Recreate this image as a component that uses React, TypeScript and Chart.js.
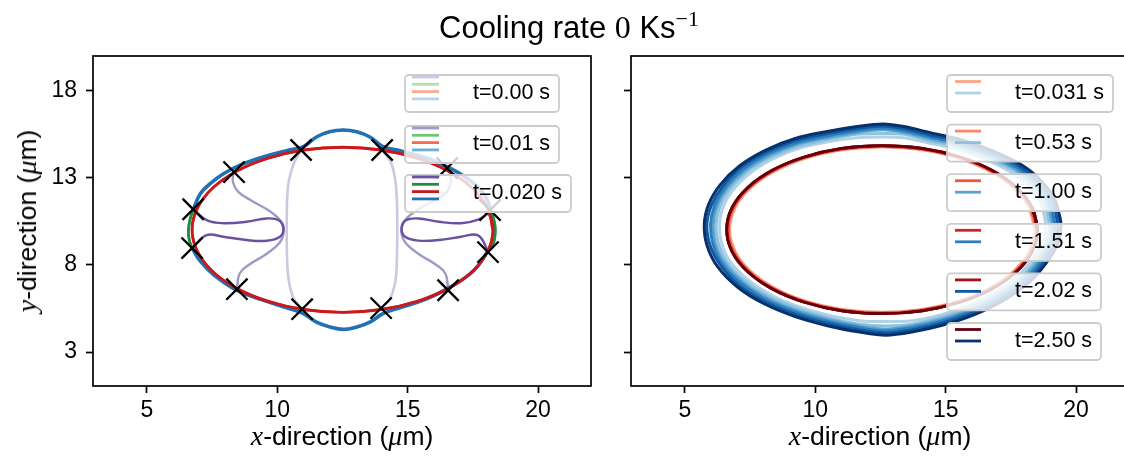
import React, { useEffect, useRef } from "react";
import { Chart, registerables } from "chart.js";

Chart.register(...registerables);

const FONT = '"Liberation Sans", Arial, Helvetica, sans-serif';
const SERIF = '"Liberation Serif", "DejaVu Serif", serif';

// ---------- axes ----------
const X_TICKS = [5, 10, 15, 20];
const Y_TICKS = [3, 8, 13, 18];
const X_RANGE = [2.93, 22.03];
const Y_RANGE = [1.05, 20.0];

// ---------- left panel: legend ----------
const LEFT_LABELS = ["t=0.00 s", "t=0.01 s", "t=0.020 s"];
const LEFT_COLORS = [
  ["#cbc9e2", "#b5e0ae", "#fcab8f", "#b7d4ea"],
  ["#9e9ac8", "#74c476", "#fb6a4a", "#6baed6"],
  ["#6a51a3", "#238b45", "#cb181d", "#2171b5"],
];

// ---------- left panel: curves (x, y in µm) ----------
const LAVENDER_LEFT = [[10.93, 14.6], [10.65, 13.9], [10.45, 12.9], [10.38, 11.9], [10.36, 10.0], [10.38, 8.1], [10.45, 7.0], [10.65, 6.0], [10.95, 5.45]];
const LAVENDER_RIGHT = [[14.02, 14.6], [14.35, 13.9], [14.52, 12.9], [14.58, 11.9], [14.6, 10.0], [14.58, 8.1], [14.52, 7.0], [14.3, 6.0], [13.98, 5.5]];

const MIDPURPLE_LEFT = [[8.31, 13.3], [8.3, 12.75], [8.5, 12.2], [9.0, 11.7], [9.7, 11.1], [10.15, 10.5], [10.25, 10.0], [10.1, 9.3], [9.55, 8.6], [8.9, 8.0], [8.55, 7.5], [8.45, 6.6]];
const MIDPURPLE_RIGHT = [[16.6, 13.5], [16.65, 12.75], [16.5, 12.2], [16.0, 11.7], [15.3, 11.1], [14.85, 10.5], [14.75, 10.0], [14.9, 9.3], [15.45, 8.6], [16.1, 8.0], [16.45, 7.5], [16.55, 6.55]];

const DARKPURPLE_LEFT = [[6.78, 11.2], [7.29, 10.58], [7.93, 10.4], [8.82, 10.48], [9.59, 10.67], [10.04, 10.58], [10.23, 10.1], [10.1, 9.62], [9.59, 9.39], [8.82, 9.43], [7.93, 9.62], [7.29, 9.71], [6.73, 8.97]];
const DARKPURPLE_RIGHT = [[18.2, 11.1], [17.7, 10.6], [17.05, 10.4], [16.2, 10.48], [15.4, 10.67], [14.95, 10.58], [14.77, 10.1], [14.9, 9.62], [15.4, 9.4], [16.2, 9.43], [17.05, 9.62], [17.7, 9.7], [18.08, 8.8]];

const GREEN_LEFT = [[6.78, 11.2], [6.65, 10.6], [6.59, 10.0], [6.62, 9.45], [6.73, 8.97]];
const GREEN_RIGHT = [[18.2, 11.1], [18.32, 10.5], [18.36, 10.0], [18.3, 9.3], [18.08, 8.8]];

const BLUE_TOP = [[6.78, 11.2], [7.05, 12.1], [7.45, 12.7], [7.95, 13.25], [8.55, 13.72], [9.45, 14.2], [10.45, 14.6], [11.0, 14.8], [11.5, 15.35], [12.0, 15.65], [12.53, 15.75], [13.05, 15.65], [13.55, 15.35], [14.05, 14.8], [14.6, 14.6], [15.6, 14.2], [16.4, 13.72], [17.0, 13.25], [17.6, 12.6], [18.0, 11.9], [18.2, 11.1]];
const BLUE_BOTTOM = [[18.08, 8.8], [17.55, 7.7], [16.65, 6.74], [15.6, 5.98], [14.6, 5.5], [14.05, 5.2], [13.55, 4.72], [13.05, 4.44], [12.53, 4.3], [12.02, 4.44], [11.5, 4.72], [11.0, 5.2], [10.45, 5.5], [9.45, 5.98], [8.44, 6.55], [7.55, 7.45], [7.03, 8.25], [6.73, 8.97]];

const RED_LEFT = [[18.27, 10.02], [18.07, 11.25], [17.5, 12.39], [16.58, 13.37], [15.39, 14.12], [13.99, 14.6], [12.5, 14.76], [11.01, 14.6], [9.62, 14.12], [8.42, 13.37], [7.5, 12.39], [6.93, 11.25], [6.73, 10.02], [6.93, 8.79], [7.5, 7.65], [8.42, 6.67], [9.62, 5.92], [11.01, 5.44], [12.5, 5.28], [13.99, 5.44], [15.39, 5.92], [16.58, 6.67], [17.5, 7.65], [18.07, 8.79]];

const JUNCTIONS = [[6.77, 11.2], [6.73, 8.97], [8.34, 13.33], [8.45, 6.61], [10.91, 14.6], [10.95, 5.46], [14.02, 14.6], [13.98, 5.52], [16.51, 13.56], [16.55, 6.55], [18.16, 11.15], [18.08, 8.74]];

// ---------- right panel ----------
const RIGHT_LABELS = ["t=0.031 s", "t=0.53 s", "t=1.00 s", "t=1.51 s", "t=2.02 s", "t=2.50 s"];
const RED_COLORS = ["#fca486", "#fc8767", "#f5533b", "#d42121", "#a50f15", "#67000d"];
const BLUE_COLORS = ["#b0d2e7", "#8dc1dd", "#5aa2cf", "#2e7ebc", "#0e59a2", "#08306b"];

const RED_SMALL = [[18.4, 10.03], [18.2, 11.26], [17.62, 12.4], [16.69, 13.38], [15.48, 14.14], [14.07, 14.61], [12.56, 14.77], [11.05, 14.61], [9.64, 14.14], [8.43, 13.38], [7.5, 12.4], [6.92, 11.26], [6.72, 10.03], [6.92, 8.8], [7.5, 7.66], [8.43, 6.68], [9.64, 5.92], [11.05, 5.45], [12.56, 5.29], [14.07, 5.45], [15.48, 5.92], [16.69, 6.68], [17.62, 7.66], [18.2, 8.8]];
const RED_MID = [[18.46, 10.03], [18.26, 11.27], [17.67, 12.42], [16.73, 13.41], [15.51, 14.17], [14.09, 14.65], [12.56, 14.81], [11.03, 14.65], [9.61, 14.17], [8.39, 13.41], [7.45, 12.42], [6.86, 11.27], [6.66, 10.03], [6.86, 8.79], [7.45, 7.64], [8.39, 6.65], [9.61, 5.89], [11.03, 5.41], [12.56, 5.25], [14.09, 5.41], [15.51, 5.89], [16.73, 6.65], [17.67, 7.64], [18.26, 8.79]];
const RED_FULL = [[18.52, 10.03], [18.32, 11.28], [17.72, 12.44], [16.77, 13.44], [15.54, 14.2], [14.1, 14.69], [12.56, 14.85], [11.02, 14.69], [9.58, 14.2], [8.35, 13.44], [7.4, 12.44], [6.8, 11.28], [6.6, 10.03], [6.8, 8.78], [7.4, 7.62], [8.35, 6.62], [9.58, 5.86], [11.02, 5.37], [12.56, 5.21], [14.1, 5.37], [15.54, 5.86], [16.77, 6.62], [17.72, 7.62], [18.32, 8.78]];

const BLUE_T0 = [[18.84, 10.4], [18.65, 11.53], [18.19, 12.5], [17.49, 13.34], [16.51, 14.06], [15.43, 14.65], [14.31, 15.02], [13.4, 15.3], [12.6, 15.35], [11.6, 15.3], [10.49, 15.07], [9.37, 14.7], [8.39, 14.11], [7.51, 13.29], [6.81, 12.25], [6.45, 11.28], [6.32, 10.3], [6.4, 9.27], [6.71, 8.25], [7.41, 7.16], [8.29, 6.29], [9.37, 5.6], [10.59, 5.08], [11.7, 4.8], [12.7, 4.75], [13.7, 4.8], [14.81, 5.13], [15.93, 5.7], [16.91, 6.44], [17.79, 7.41], [18.39, 8.45], [18.75, 9.43]];
const BLUE_T1 = [[18.97, 10.4], [18.77, 11.57], [18.29, 12.58], [17.59, 13.44], [16.58, 14.17], [15.47, 14.77], [14.33, 15.15], [13.4, 15.5], [12.6, 15.55], [11.6, 15.5], [10.47, 15.2], [9.34, 14.82], [8.33, 14.22], [7.42, 13.39], [6.71, 12.33], [6.33, 11.32], [6.19, 10.3], [6.28, 9.24], [6.61, 8.17], [7.32, 7.07], [8.23, 6.18], [9.34, 5.48], [10.57, 4.95], [11.7, 4.6], [12.7, 4.5], [13.7, 4.6], [14.83, 5.0], [15.97, 5.58], [16.98, 6.33], [17.89, 7.32], [18.49, 8.37], [18.88, 9.39]];
const BLUE_T2 = [[19.08, 10.4], [18.88, 11.6], [18.38, 12.65], [17.66, 13.51], [16.63, 14.26], [15.5, 14.88], [14.35, 15.26], [13.4, 15.61], [12.6, 15.76], [11.6, 15.61], [10.45, 15.31], [9.3, 14.93], [8.27, 14.31], [7.34, 13.46], [6.62, 12.4], [6.22, 11.35], [6.08, 10.3], [6.17, 9.2], [6.52, 8.1], [7.24, 6.99], [8.17, 6.09], [9.3, 5.37], [10.55, 4.84], [11.7, 4.49], [12.7, 4.31], [13.7, 4.49], [14.85, 4.89], [16.0, 5.47], [17.03, 6.24], [17.96, 7.24], [18.58, 8.3], [18.98, 9.35]];
const BLUE_T3 = [[19.18, 10.4], [18.97, 11.63], [18.46, 12.71], [17.73, 13.58], [16.68, 14.35], [15.53, 14.97], [14.36, 15.36], [13.4, 15.71], [12.6, 15.86], [11.6, 15.71], [10.44, 15.41], [9.27, 15.02], [8.22, 14.4], [7.27, 13.53], [6.54, 12.46], [6.13, 11.38], [5.98, 10.3], [6.08, 9.17], [6.44, 8.04], [7.17, 6.92], [8.12, 6.0], [9.27, 5.28], [10.54, 4.74], [11.7, 4.39], [12.7, 4.21], [13.7, 4.39], [14.86, 4.79], [16.03, 5.38], [17.08, 6.15], [18.03, 7.17], [18.66, 8.24], [19.07, 9.32]];
const BLUE_T4 = [[19.3, 10.4], [19.09, 11.66], [18.55, 12.78], [17.82, 13.67], [16.74, 14.45], [15.56, 15.09], [14.38, 15.48], [13.4, 15.83], [12.6, 15.98], [11.6, 15.83], [10.42, 15.53], [9.24, 15.14], [8.16, 14.5], [7.18, 13.62], [6.45, 12.53], [6.01, 11.41], [5.84, 10.32], [5.96, 9.14], [6.38, 7.95], [7.08, 6.83], [8.06, 5.9], [9.24, 5.16], [10.52, 4.62], [11.7, 4.27], [12.7, 4.09], [13.7, 4.27], [14.88, 4.67], [16.06, 5.26], [17.14, 6.05], [18.12, 7.08], [18.75, 8.17], [19.19, 9.29]];
const BLUE_T5 = [[19.42, 10.4], [19.2, 11.7], [18.65, 12.85], [17.9, 13.75], [16.8, 14.55], [15.6, 15.2], [14.4, 15.6], [13.4, 15.95], [12.6, 16.1], [11.6, 15.95], [10.4, 15.65], [9.2, 15.25], [8.1, 14.6], [7.1, 13.7], [6.35, 12.6], [5.9, 11.45], [5.74, 10.3], [5.85, 9.1], [6.25, 7.9], [7.0, 6.75], [8.0, 5.8], [9.2, 5.05], [10.5, 4.5], [11.7, 4.15], [12.7, 3.97], [13.7, 4.15], [14.9, 4.55], [16.1, 5.15], [17.2, 5.95], [18.2, 7.0], [18.85, 8.1], [19.3, 9.25]];

const RED_SERIES = [RED_SMALL, RED_MID, RED_MID, RED_FULL, RED_FULL, RED_FULL];
const BLUE_SERIES = [BLUE_T0, BLUE_T1, BLUE_T2, BLUE_T3, BLUE_T4, BLUE_T5];

// ---------- helpers ----------
type P = { x: number; y: number };
const toPts = (a: number[][]): P[] => a.map(([x, y]) => ({ x, y }));
const closedPts = (a: number[][]): P[] => toPts([...a, a[0], a[1]]);

const lineDs = (data: P[], color: string, width: number, tension = 0.4) => ({
  data,
  showLine: true,
  borderColor: color,
  backgroundColor: color,
  borderWidth: width,
  pointRadius: 0,
  tension,
  fill: false,
});

const withOrder = (ds: any[]) => ds.map((d, i) => ({ ...d, order: -i }));

type Box = { x: number; y: number; w: number; h: number; label: string; colors: string[]; lineY: number[]; lineX: number[]; textX: number; textY: number };

const boxLegend = (boxes: Box[]) => ({
  id: "boxLegend",
  afterDraw(chart: any) {
    const ctx = chart.ctx as CanvasRenderingContext2D;
    ctx.save();
    for (const b of boxes) {
      ctx.beginPath();
      (ctx as any).roundRect(b.x, b.y, b.w, b.h, 4);
      ctx.fillStyle = "rgba(255,255,255,0.8)";
      ctx.fill();
      ctx.lineWidth = 1.8;
      ctx.strokeStyle = "#cccccc";
      ctx.stroke();
      b.colors.forEach((c, i) => {
        ctx.beginPath();
        ctx.moveTo(b.lineX[0], b.lineY[i]);
        ctx.lineTo(b.lineX[1], b.lineY[i]);
        ctx.strokeStyle = c;
        ctx.lineWidth = 2.8;
        ctx.stroke();
      });
      ctx.fillStyle = "#000";
      ctx.font = `21.5px ${FONT}`;
      ctx.textBaseline = "middle";
      ctx.textAlign = "left";
      ctx.fillText(b.label, b.textX, b.textY);
    }
    ctx.restore();
  },
});

const framePlugin = {
  id: "frame",
  afterDatasetsDraw(chart: any) {
    const { left, top, right, bottom } = chart.chartArea;
    const ctx = chart.ctx as CanvasRenderingContext2D;
    ctx.save();
    ctx.strokeStyle = "#000";
    ctx.lineWidth = 1.7;
    ctx.strokeRect(left, top, right - left, bottom - top);
    ctx.restore();
  },
};

const tickGrid = { display: true, drawOnChartArea: false, drawTicks: true, tickLength: 7, tickWidth: 1.7, tickColor: "#000" };

function makeOptions(showYLabels: boolean, yWidth: number, padRight: number) {
  return {
    responsive: false,
    animation: false as const,
    events: [] as any[],
    layout: { padding: { left: 0, top: 56, right: padRight, bottom: 0 } },
    plugins: { legend: { display: false }, tooltip: { enabled: false }, title: { display: false } },
    scales: {
      x: {
        type: "linear" as const,
        min: X_RANGE[0],
        max: X_RANGE[1],
        grid: tickGrid,
        border: { display: false },
        ticks: { color: "#000", font: { family: FONT, size: 23 }, padding: 4, maxRotation: 0, autoSkip: false },
        afterBuildTicks: (s: any) => { s.ticks = X_TICKS.map((v) => ({ value: v })); },
        afterFit: (s: any) => { s.height = 75; },
      },
      y: {
        type: "linear" as const,
        min: Y_RANGE[0],
        max: Y_RANGE[1],
        grid: tickGrid,
        border: { display: false },
        ticks: { display: showYLabels, color: "#000", font: { family: FONT, size: 23 }, padding: 9, autoSkip: false },
        afterBuildTicks: (s: any) => { s.ticks = Y_TICKS.map((v) => ({ value: v })); },
        afterFit: (s: any) => { s.width = yWidth; },
      },
    },
  };
}

function leftDatasets() {
  const [c0, c1, c2] = LEFT_COLORS;
  return withOrder([
    // earlier states lying underneath the final ones
    lineDs(toPts(GREEN_LEFT), c0[1], 2.4), lineDs(toPts(GREEN_RIGHT), c0[1], 2.4),
    lineDs(closedPts(RED_LEFT), c0[2], 2.4),
    lineDs(toPts(BLUE_TOP), c0[3], 2.4), lineDs(toPts(BLUE_BOTTOM), c0[3], 2.4),
    lineDs(toPts(GREEN_LEFT), c1[1], 2.4), lineDs(toPts(GREEN_RIGHT), c1[1], 2.4),
    lineDs(closedPts(RED_LEFT), c1[2], 2.4),
    lineDs(toPts(BLUE_TOP), c1[3], 2.4), lineDs(toPts(BLUE_BOTTOM), c1[3], 2.4),
    // visible
    lineDs(toPts(LAVENDER_LEFT), c0[0], 2.6), lineDs(toPts(LAVENDER_RIGHT), c0[0], 2.6),
    lineDs(toPts(MIDPURPLE_LEFT), c1[0], 2.4), lineDs(toPts(MIDPURPLE_RIGHT), c1[0], 2.4),
    lineDs(toPts(DARKPURPLE_LEFT), c2[0], 2.4), lineDs(toPts(DARKPURPLE_RIGHT), c2[0], 2.4),
    lineDs(toPts(GREEN_LEFT), c2[1], 2.8), lineDs(toPts(GREEN_RIGHT), c2[1], 2.8),
    lineDs(toPts(BLUE_TOP), c2[3], 3.6), lineDs(toPts(BLUE_BOTTOM), c2[3], 3.6),
    lineDs(closedPts(RED_LEFT), c2[2], 2.9),
    {
      data: toPts(JUNCTIONS),
      showLine: false,
      pointStyle: "crossRot",
      pointRadius: 15,
      pointBorderWidth: 2.3,
      pointBorderColor: "#000",
      pointBackgroundColor: "#000",
      borderColor: "#000",
    },
  ]);
}

function rightDatasets() {
  const blues = BLUE_SERIES.map((s, i) => lineDs(closedPts(s), BLUE_COLORS[i], 3, 0.3));
  const reds = RED_SERIES.map((s, i) => lineDs(closedPts(s), RED_COLORS[i], 2.8, 0.4));
  return withOrder([...blues, ...reds]);
}

const LEFT_BOXES: Box[] = LEFT_LABELS.map((label, i) => {
  const tops = [75, 126, 175];
  const widths = [154, 154, 166];
  const t = tops[i];
  return {
    x: 405, y: t, w: widths[i], h: 37, label, colors: LEFT_COLORS[i],
    lineY: [t + 2, t + 9.3, t + 16.6, t + 23.9], lineX: [412, 439], textX: 473, textY: t + 18,
  };
});

const RIGHT_OFFSET = 612;
const RIGHT_BOXES: Box[] = RIGHT_LABELS.map((label, i) => {
  const t = 75 + 49.6 * i;
  return {
    x: 947 - RIGHT_OFFSET, y: t, w: i === 0 ? 166 : 154, h: 37, label,
    colors: [RED_COLORS[i], BLUE_COLORS[i]],
    lineY: [t + 6.5, t + 18], lineX: [955 - RIGHT_OFFSET, 981 - RIGHT_OFFSET], textX: 1015 - RIGHT_OFFSET, textY: t + 18,
  };
});

function Panel(props: { datasets: any[]; boxes: Box[]; width: number; left: number; showY: boolean; yWidth: number; padRight: number }) {
  const ref = useRef<HTMLCanvasElement>(null);
  useEffect(() => {
    const chart = new Chart(ref.current as HTMLCanvasElement, {
      type: "scatter",
      data: { datasets: props.datasets },
      options: makeOptions(props.showY, props.yWidth, props.padRight) as any,
      plugins: [framePlugin, boxLegend(props.boxes)],
    });
    return () => chart.destroy();
  }, []);
  return (
    <canvas
      ref={ref}
      width={props.width}
      height={461}
      style={{ position: "absolute", left: props.left, top: 0, width: props.width, height: 461 }}
    />
  );
}

const axisLabelStyle: React.CSSProperties = {
  position: "absolute",
  fontFamily: FONT,
  fontSize: 26.5,
  color: "#000",
  whiteSpace: "nowrap",
  lineHeight: 1,
};
const mathStyle: React.CSSProperties = { fontFamily: SERIF, fontStyle: "italic", fontSize: 28 };

function XLabel({ cx }: { cx: number }) {
  return (
    <div style={{ ...axisLabelStyle, left: cx, top: 436, transform: "translate(-50%, -50%)" }}>
      <span style={mathStyle}>x</span>-direction (<span style={mathStyle}>μ</span>m)
    </div>
  );
}

export default function App() {
  return (
    <div style={{ position: "absolute", left: 0, top: 0, width: 1124, height: 461, overflow: "hidden", background: "#fff" }}>
      <Panel datasets={leftDatasets()} boxes={LEFT_BOXES} width={612} left={0} showY={true} yWidth={93} padRight={21} />
      <Panel datasets={rightDatasets()} boxes={RIGHT_BOXES} width={540} left={RIGHT_OFFSET} showY={false} yWidth={19} padRight={23} />
      <div style={{ ...axisLabelStyle, fontSize: 31, left: 569, top: 27, transform: "translate(-50%, -50%)" }}>
        Cooling rate <span style={{ fontFamily: SERIF, fontSize: 32 }}>0</span> Ks
        <sup style={{ fontFamily: SERIF, fontSize: 22, verticalAlign: "0.55em", lineHeight: 0 }}>−1</sup>
      </div>
      <XLabel cx={342} />
      <XLabel cx={880} />
      <div style={{ ...axisLabelStyle, left: 27, top: 221, transform: "translate(-50%, -50%) rotate(-90deg)" }}>
        <span style={mathStyle}>y</span>-direction (<span style={mathStyle}>μ</span>m)
      </div>
    </div>
  );
}
